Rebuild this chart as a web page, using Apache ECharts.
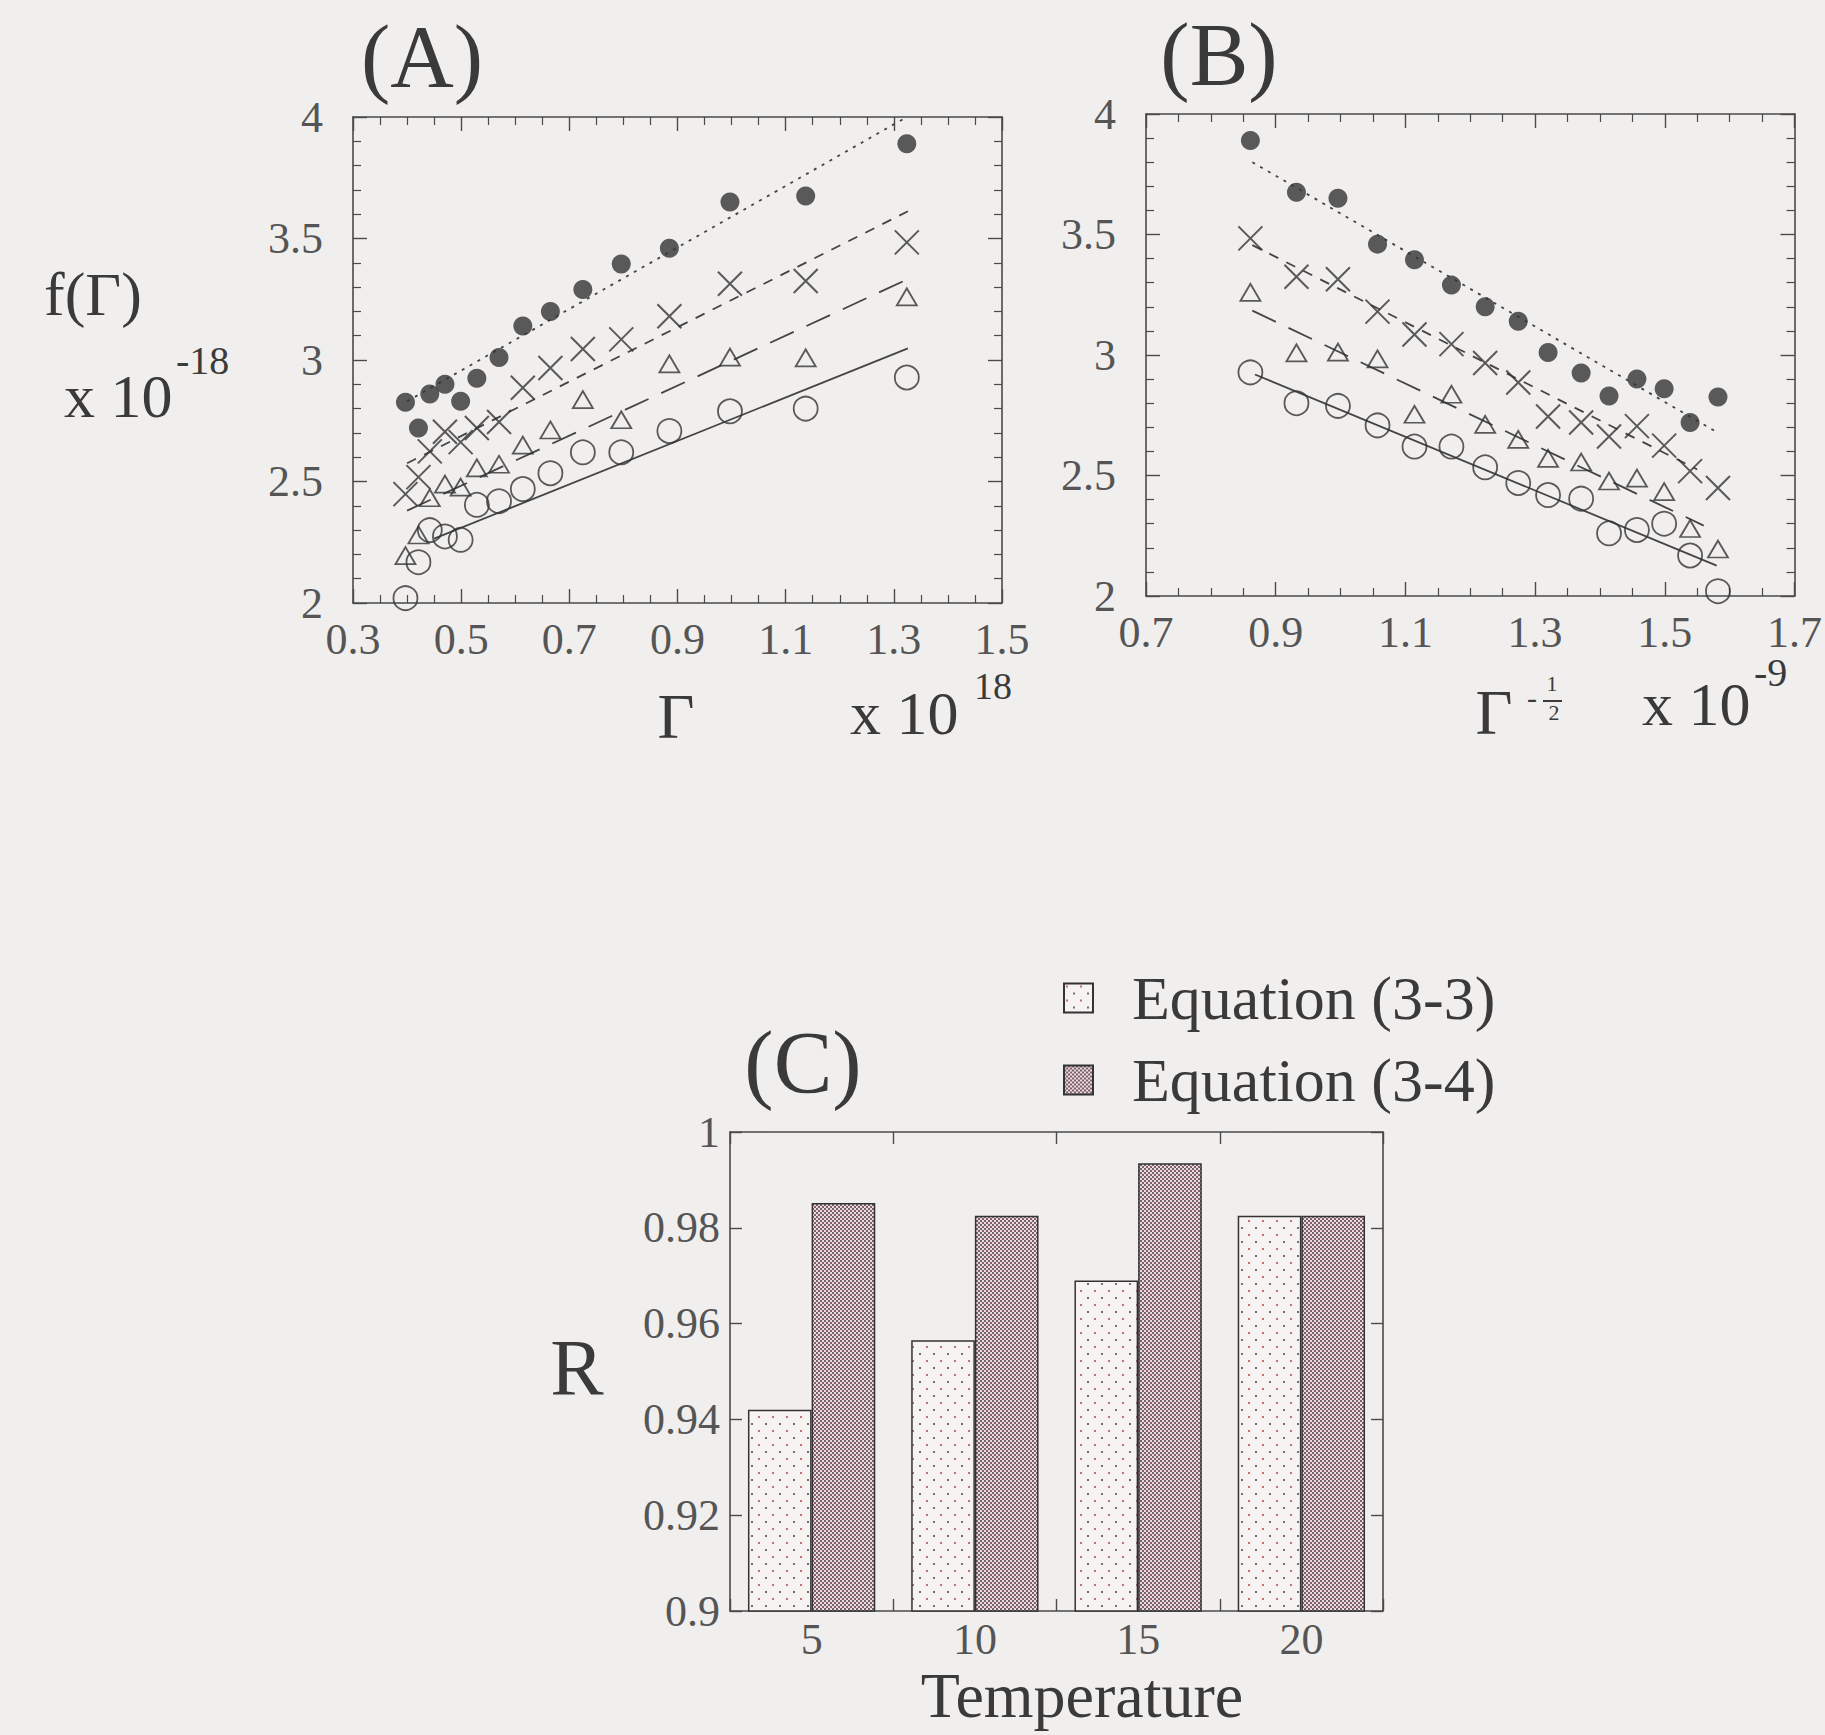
<!DOCTYPE html>
<html>
<head>
<meta charset="utf-8">
<title>f(Γ) fits and R</title>
<script src="https://cdn.jsdelivr.net/npm/echarts@6/dist/echarts.min.js"></script>
<style>
html,body{margin:0;padding:0;background:#f1efee;}
#main{width:1825px;height:1735px;}
</style>
</head>
<body>
<div id="main"></div>
<script>
//数据 (A)(B) 同一组点, (A) 横轴 Γ x10^18, (B) 横轴 Γ^-1/2 x10^-9
var gamma = [0.397, 0.421, 0.442, 0.470, 0.499, 0.529, 0.570, 0.614, 0.665, 0.725, 0.796, 0.885, 0.997, 1.137, 1.324];
var gammaInvSqrt = [1.582, 1.539, 1.499, 1.457, 1.414, 1.371, 1.320, 1.274, 1.223, 1.171, 1.114, 1.057, 0.996, 0.932, 0.861];
var fFilled = [2.826, 2.72, 2.86, 2.90, 2.83, 2.925, 3.01, 3.14, 3.20, 3.29, 3.395, 3.46, 3.65, 3.675, 3.89];
var fCross = [2.448, 2.518, 2.624, 2.705, 2.662, 2.72, 2.745, 2.886, 2.967, 3.045, 3.085, 3.18, 3.314, 3.325, 3.484];
var fTri = [2.195, 2.28, 2.433, 2.489, 2.477, 2.556, 2.571, 2.65, 2.712, 2.837, 2.754, 2.984, 3.012, 3.009, 3.26];
var fCirc = [2.02, 2.168, 2.30, 2.274, 2.26, 2.404, 2.419, 2.469, 2.534, 2.62, 2.62, 2.708, 2.789, 2.80, 2.928];

//拟合直线端点
var fitAFilled = [[0.40, 2.83], [1.324, 4.0]];
var fitACross = [[0.40, 2.575], [1.326, 3.612]];
var fitATri = [[0.40, 2.38], [1.326, 3.333]];
var fitACirc = [[0.45, 2.265], [1.326, 3.048]];
var fitBFilled = [[0.864, 3.80], [1.58, 2.68]];
var fitBCross = [[0.864, 3.456], [1.55, 2.525]];
var fitBTri = [[0.864, 3.184], [1.56, 2.292]];
var fitBCirc = [[0.868, 2.919], [1.58, 2.126]];

//(C) 相关系数
var temps = ['5', '10', '15', '20'];
var rEq33 = [0.942, 0.9565, 0.969, 0.9825];
var rEq34 = [0.9852, 0.9825, 0.9935, 0.9825];

var serif = "'Liberation Serif', 'DejaVu Serif', serif";
var axisColor = '#4a4a4a';
var labelColor = '#555';
var textColor = '#3a3a3a';
var markColor = '#333';

function pairs(xs, ys) {
	var out = [];
	for (var i = 0; i < xs.length; i++) {
		out.push([xs[i], ys[i]]);
	}
	return out;
}

function makePattern(size, base, dots) {
	var c = document.createElement('canvas');
	c.width = size;
	c.height = size;
	var ctx = c.getContext('2d');
	ctx.fillStyle = base;
	ctx.fillRect(0, 0, size, size);
	for (var i = 0; i < dots.length; i++) {
		ctx.fillStyle = dots[i][3];
		ctx.fillRect(dots[i][0], dots[i][1], dots[i][2], dots[i][2]);
	}
	return c.toDataURL();
}

var lightImg = makePattern(14, '#f6f3f2', [[2, 2, 2, '#c27070'], [9, 9, 2, '#707070']]);
var darkImg = makePattern(4, '#e6dde1', [[0, 0, 2, '#76606a'], [2, 2, 2, '#8a5c68']]);

function valAxis(grid, pos, min, max, interval, minorSplit, showLabel, margin, tickLen) {
	return {
		type: 'value', gridIndex: grid, position: pos,
		min: min, max: max, interval: interval,
		axisLine: { show: true, onZero: false, lineStyle: { color: axisColor, width: 1.6 } },
		axisTick: { show: true, inside: true, length: tickLen, lineStyle: { color: axisColor, width: 1.4 } },
		minorTick: { show: minorSplit > 0, splitNumber: minorSplit || 5, length: 8, lineStyle: { color: axisColor, width: 1.2 } },
		splitLine: { show: false },
		axisLabel: { show: showLabel, margin: margin, fontSize: 44, fontFamily: serif, color: labelColor, showMinLabel: true, showMaxLabel: true }
	};
}

function catAxis(pos, showLabel) {
	return {
		type: 'category', gridIndex: 2, position: pos, data: temps,
		axisLine: { show: true, lineStyle: { color: axisColor, width: 1.6 } },
		axisTick: { show: true, inside: true, length: 12, lineStyle: { color: axisColor, width: 1.4 } },
		splitLine: { show: false },
		axisLabel: { show: showLabel, margin: 6, fontSize: 44, fontFamily: serif, color: labelColor }
	};
}

function fitLine(data, xi, dash) {
	return {
		type: 'line', xAxisIndex: xi, yAxisIndex: xi, data: data,
		symbol: 'none', silent: true, z: 2,
		lineStyle: { color: '#444', width: 1.8, type: dash }
	};
}

function points(xs, ys, xi, kind) {
	var s = { type: 'scatter', xAxisIndex: xi, yAxisIndex: xi, data: pairs(xs, ys), z: 3 };
	if (kind == 'filled') {
		s.symbol = 'circle';
		s.symbolSize = 19;
		s.itemStyle = { color: markColor };
	} else if (kind == 'cross') {
		s.symbol = 'path://M0,0L20,20M20,0L0,20';
		s.symbolSize = 24;
		s.itemStyle = { color: 'rgba(0,0,0,0)', borderColor: markColor, borderWidth: 2 };
	} else if (kind == 'tri') {
		s.symbol = 'triangle';
		s.symbolSize = [20, 17];
		s.itemStyle = { color: 'rgba(0,0,0,0)', borderColor: markColor, borderWidth: 1.8 };
	} else {
		s.symbol = 'circle';
		s.symbolSize = 24;
		s.itemStyle = { color: 'rgba(0,0,0,0)', borderColor: markColor, borderWidth: 1.8 };
	}
	return s;
}

function txt(x, y, text, size, align) {
	return {
		type: 'text', x: x, y: y, silent: true,
		style: { text: text, fontSize: size, fontFamily: serif, fill: textColor, align: align || 'center', verticalAlign: 'middle' }
	};
}

var dotted = [3, 6];
var dashed = [10, 9];
var longDash = [26, 14];

var series = [
	fitLine(fitAFilled, 0, dotted),
	fitLine(fitACross, 0, dashed),
	fitLine(fitATri, 0, longDash),
	fitLine(fitACirc, 0, 'solid'),
	points(gamma, fFilled, 0, 'filled'),
	points(gamma, fCross, 0, 'cross'),
	points(gamma, fTri, 0, 'tri'),
	points(gamma, fCirc, 0, 'circ'),
	fitLine(fitBFilled, 2, dotted),
	fitLine(fitBCross, 2, dashed),
	fitLine(fitBTri, 2, longDash),
	fitLine(fitBCirc, 2, 'solid'),
	points(gammaInvSqrt, fFilled, 2, 'filled'),
	points(gammaInvSqrt, fCross, 2, 'cross'),
	points(gammaInvSqrt, fTri, 2, 'tri'),
	points(gammaInvSqrt, fCirc, 2, 'circ'),
	{
		name: 'Equation (3-3)', type: 'bar', xAxisIndex: 4, yAxisIndex: 4, data: rEq33,
		barWidth: '39%', barGap: '0%',
		itemStyle: { color: { image: lightImg, repeat: 'repeat' }, borderColor: '#333', borderWidth: 1.5 }
	},
	{
		name: 'Equation (3-4)', type: 'bar', xAxisIndex: 4, yAxisIndex: 4, data: rEq34,
		barWidth: '39%', barGap: '0%',
		itemStyle: { color: { image: darkImg, repeat: 'repeat' }, borderColor: '#333', borderWidth: 1.5 }
	}
];

var option = {
	backgroundColor: '#f1efee',
	animation: false,
	grid: [
		{ left: 353, top: 117, width: 649, height: 486 },
		{ left: 1146, top: 114, width: 649, height: 482 },
		{ left: 730, top: 1132, width: 653, height: 479 }
	],
	xAxis: [
		valAxis(0, 'bottom', 0.3, 1.5, 0.2, 4, true, 14, 14),
		valAxis(0, 'top', 0.3, 1.5, 0.2, 4, false, 14, 14),
		valAxis(1, 'bottom', 0.7, 1.7, 0.2, 4, true, 14, 14),
		valAxis(1, 'top', 0.7, 1.7, 0.2, 4, false, 14, 14),
		catAxis('bottom', true),
		catAxis('top', false)
	],
	yAxis: [
		valAxis(0, 'left', 2, 4, 0.5, 5, true, 30, 14),
		valAxis(0, 'right', 2, 4, 0.5, 5, false, 30, 14),
		valAxis(1, 'left', 2, 4, 0.5, 5, true, 30, 14),
		valAxis(1, 'right', 2, 4, 0.5, 5, false, 30, 14),
		valAxis(2, 'left', 0.9, 1, 0.02, 0, true, 10, 12),
		valAxis(2, 'right', 0.9, 1, 0.02, 0, false, 10, 12)
	],
	legend: {
		orient: 'vertical', left: 1058, top: 962,
		itemWidth: 29, itemHeight: 29, itemGap: 20, icon: 'rect',
		data: ['Equation (3-3)', 'Equation (3-4)'],
		textStyle: { fontSize: 62, fontFamily: serif, color: textColor, padding: [0, 0, 0, 34] }
	},
	graphic: [
		txt(422, 56, '(A)', 88),
		txt(1219, 54, '(B)', 88),
		txt(803, 1062, '(C)', 88),
		txt(44, 294, 'f(Γ)', 62, 'left'),
		txt(64, 396, 'x 10', 62, 'left'),
		txt(176, 360, '-18', 40, 'left'),
		txt(676, 716, 'Γ', 64),
		txt(850, 713, 'x 10', 62, 'left'),
		txt(974, 686, '18', 38, 'left'),
		txt(1494, 712, 'Γ', 64),
		txt(1532, 697, '-', 30),
		txt(1552, 683, '1', 22),
		{ type: 'line', silent: true, shape: { x1: 1543, y1: 701, x2: 1562, y2: 701 }, style: { stroke: textColor, lineWidth: 2 } },
		txt(1554, 712, '2', 22),
		txt(1642, 704, 'x 10', 62, 'left'),
		txt(1754, 672, '-9', 40, 'left'),
		txt(577, 1368, 'R', 80),
		txt(1082, 1695, 'Temperature', 64)
	],
	series: series
};

var myChart = echarts.init(document.getElementById('main'), null, { renderer: 'svg' });
myChart.setOption(option);
</script>
</body>
</html>
